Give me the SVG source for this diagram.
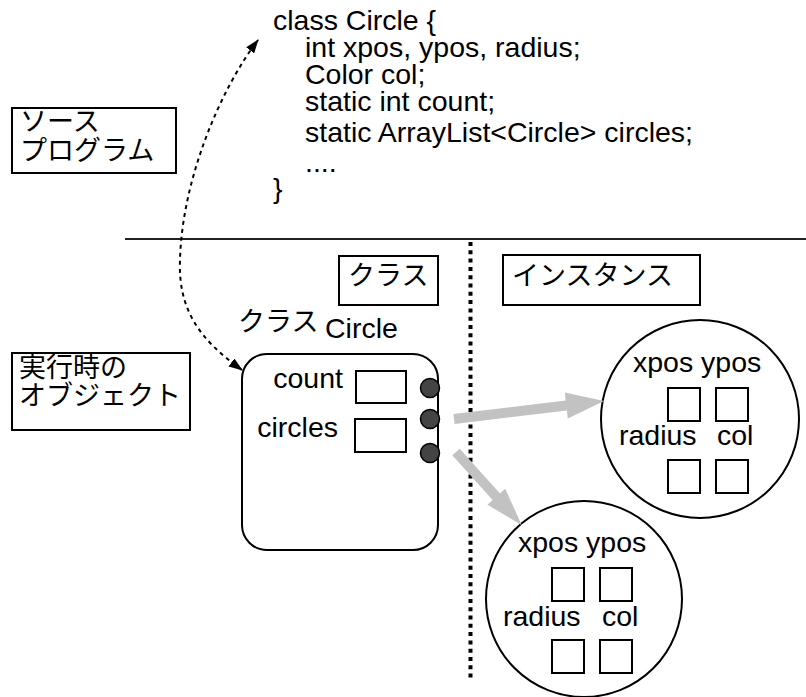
<svg xmlns="http://www.w3.org/2000/svg" width="806" height="697" viewBox="0 0 806 697">
  <style>
    .lat { font-family: "Liberation Sans", Arial, sans-serif; font-size: 28.5px; fill: #000; }
    .jp { font-family: "Noto Sans CJK JP", sans-serif; font-size: 27px; fill: #000; }
    .box { fill: #fff; stroke: #000; stroke-width: 2; }
    .slot { fill: #fff; stroke: #000; stroke-width: 2; }
    .ring { fill: #fff; stroke: #000; stroke-width: 2; }
    .ref { fill: #444; stroke: #000; stroke-width: 1.5; }
    .ptr { fill: #c2c2c2; stroke: none; }
  </style>
  <defs>
    <marker id="head" viewBox="0 0 14 10" refX="13" refY="5" markerWidth="14" markerHeight="10" markerUnits="userSpaceOnUse" orient="auto-start-reverse">
      <path d="M0,0 L14,5 L0,10 Z" fill="#000"/>
    </marker>
  </defs>
  <rect width="806" height="697" fill="#fff"/>

  <!-- source code -->
  <g id="source-code" class="lat">
    <text x="273" y="30">class Circle {</text>
    <text x="305" y="57">int xpos, ypos, radius;</text>
    <text x="305" y="84">Color col;</text>
    <text x="305" y="111">static int count;</text>
    <text x="305" y="142">static ArrayList&lt;Circle&gt; circles;</text>
    <text x="305" y="172">....</text>
    <text x="273" y="198">}</text>
  </g>

  <!-- left-hand labels -->
  <g id="label-source">
    <rect class="box" x="12" y="108" width="164" height="65"/>
    <text class="jp" x="20" y="131">ソース</text>
    <text class="jp" x="20" y="160">プログラム</text>
  </g>
  <g id="label-runtime">
    <rect class="box" x="12" y="353" width="178" height="77"/>
    <text class="jp" x="19" y="377">実行時の</text>
    <text class="jp" x="19" y="405">オブジェクト</text>
  </g>

  <!-- separators -->
  <g id="separators">
    <line x1="125" y1="239" x2="806" y2="239" stroke="#222" stroke-width="2"/>
    <line x1="470.5" y1="242" x2="470.5" y2="680" stroke="#000" stroke-width="4" stroke-dasharray="4 4.3"/>
  </g>

  <!-- column headers -->
  <g id="header-class">
    <rect class="box" x="339" y="256" width="99" height="49"/>
    <text class="jp" x="348" y="285">クラス</text>
  </g>
  <g id="header-instance">
    <rect class="box" x="503" y="255" width="197" height="50"/>
    <text class="jp" x="512" y="285">インスタンス</text>
  </g>

  <!-- class object -->
  <g id="class-circle">
    <text class="jp" x="238" y="331">クラス</text>
    <text class="lat" x="325" y="338">Circle</text>
    <rect class="box" x="242" y="354" width="196" height="196" rx="25" ry="25"/>
    <text class="lat" x="343" y="388" text-anchor="end">count</text>
    <text class="lat" x="338" y="437" text-anchor="end">circles</text>
    <rect class="slot" x="356" y="371" width="50" height="32"/>
    <rect class="slot" x="355" y="419" width="51" height="33"/>
    <circle class="ref" cx="430" cy="388" r="9.5"/>
    <circle class="ref" cx="430" cy="419" r="9.5"/>
    <circle class="ref" cx="430" cy="453" r="9.5"/>
  </g>

  <!-- instance objects -->
  <g id="instance-1" transform="translate(700 419)">
    <circle class="ring" cx="0" cy="0" r="99"/>
    <text class="lat" x="-67" y="-47">xpos ypos</text>
    <rect class="slot" x="-32" y="-31" width="32" height="33"/>
    <rect class="slot" x="16" y="-31" width="32" height="33"/>
    <text class="lat" x="-81" y="26">radius</text>
    <text class="lat" x="17" y="26">col</text>
    <rect class="slot" x="-32" y="41" width="32" height="33"/>
    <rect class="slot" x="16" y="41" width="32" height="33"/>
  </g>
  <g id="instance-2" transform="translate(584 599)">
    <circle class="ring" cx="0" cy="0" r="98"/>
    <text class="lat" x="-66" y="-47">xpos ypos</text>
    <rect class="slot" x="-32" y="-31" width="32" height="33"/>
    <rect class="slot" x="16" y="-31" width="32" height="33"/>
    <text class="lat" x="-81" y="27">radius</text>
    <text class="lat" x="18" y="27">col</text>
    <rect class="slot" x="-32" y="41" width="32" height="33"/>
    <rect class="slot" x="16" y="41" width="32" height="33"/>
  </g>

  <!-- connectors -->
  <g id="connectors">
    <path d="M242,370 C200,340 178,310 180,260 C182,180 220,90 258,40" fill="none" stroke="#000" stroke-width="2" stroke-dasharray="4 4" marker-start="url(#head)" marker-end="url(#head)"/>
    <polygon class="ptr" points="453.4,414 565.7,400.5 564.8,392.6 604,401 567.8,418.4 566.9,410.5 454.6,424"/>
    <polygon class="ptr" points="459.7,448.7 500,493.5 505.2,488.8 521.7,525 487.4,504.8 492.6,500.1 452.3,455.3"/>
  </g>
</svg>
